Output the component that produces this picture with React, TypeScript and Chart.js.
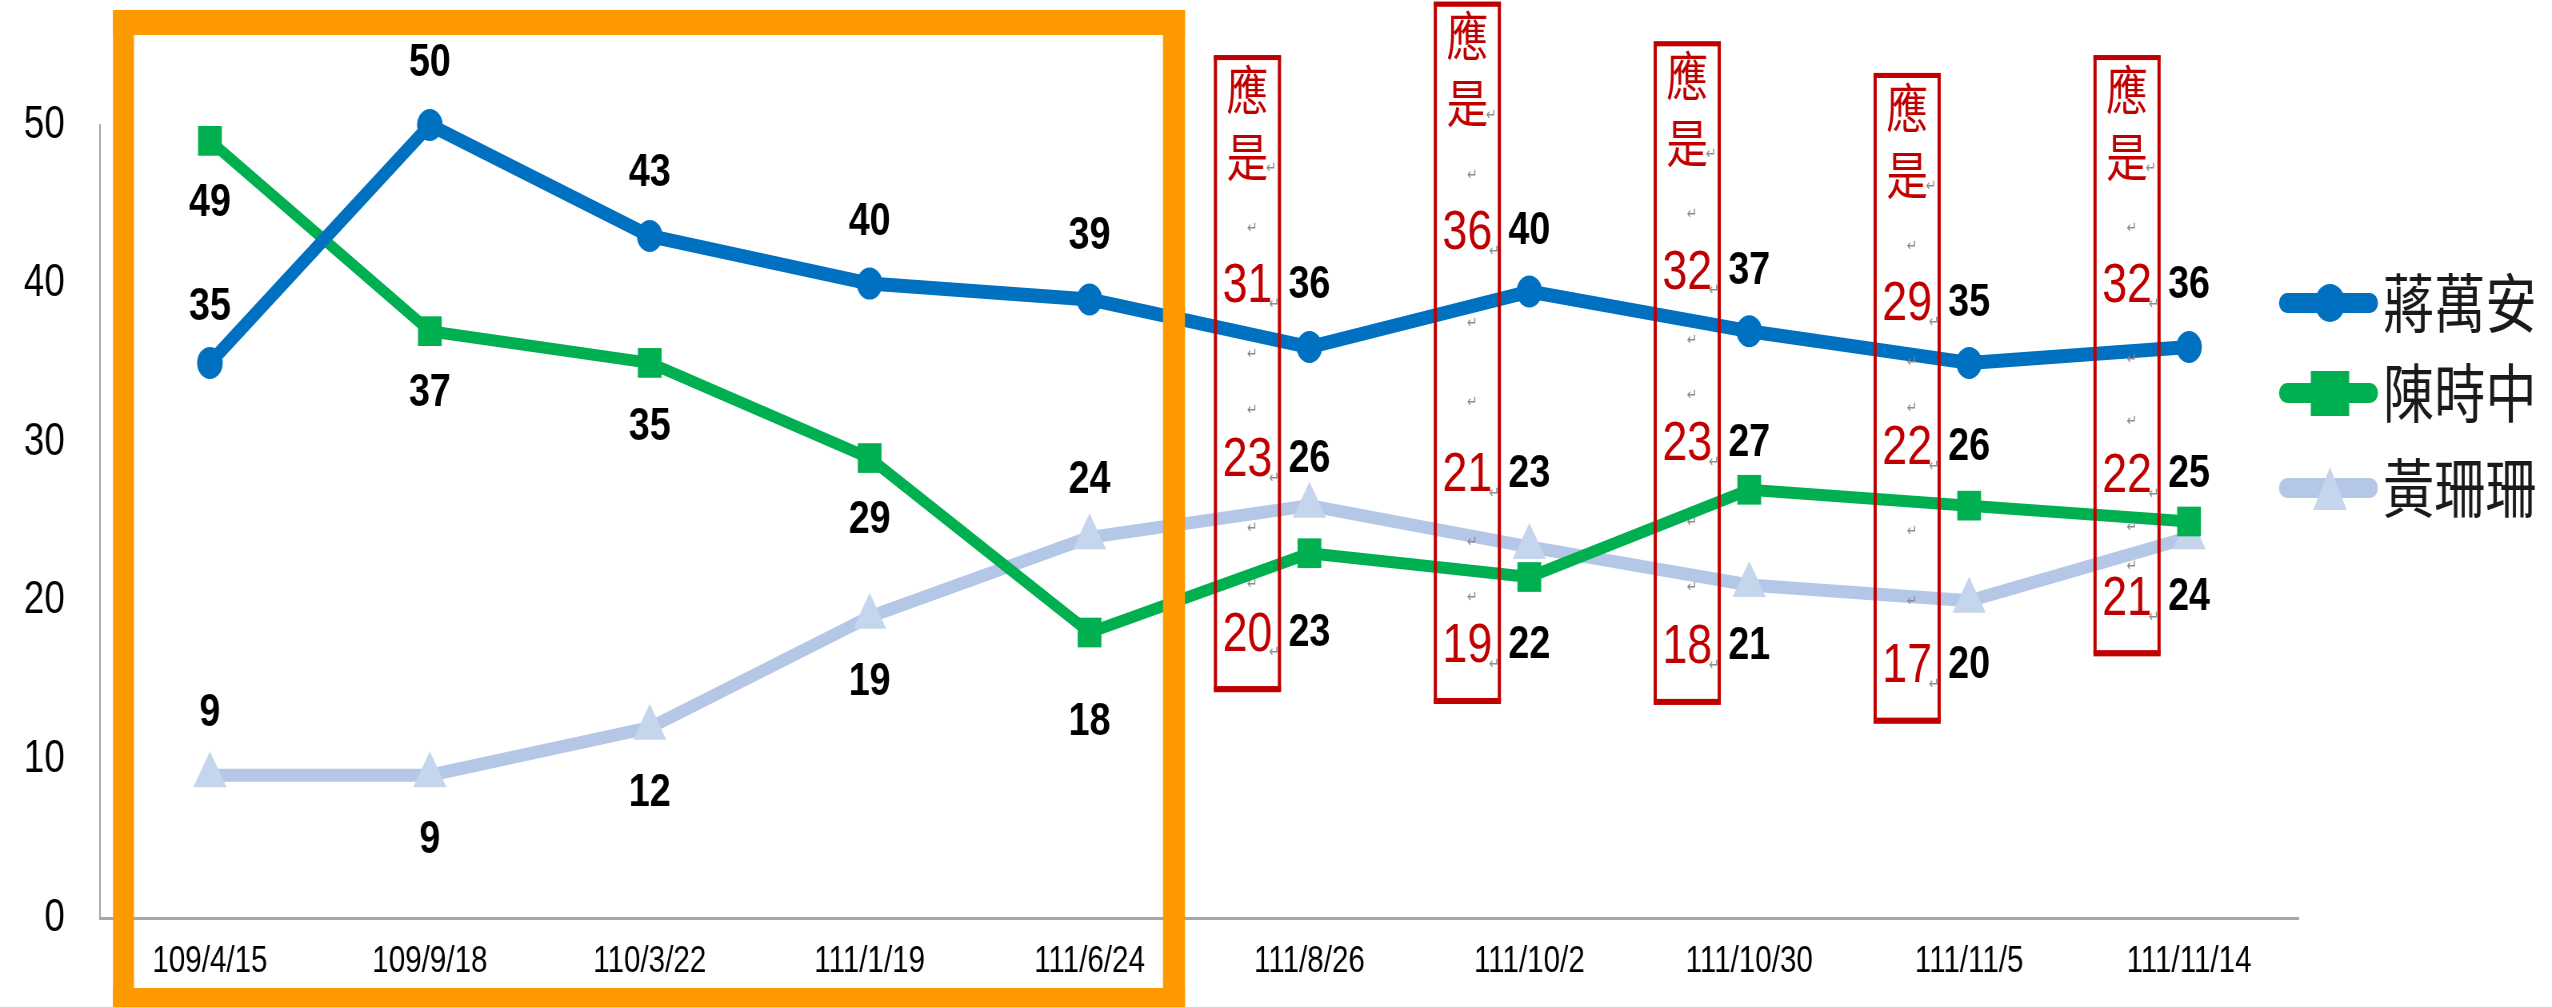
import React, { useEffect, useRef } from 'react';
import { Chart, registerables } from 'chart.js';

Chart.register(...registerables);

// ---------- data ----------
const CATEGORIES = ['109/4/15', '109/9/18', '110/3/22', '111/1/19', '111/6/24', '111/8/26', '111/10/2', '111/10/30', '111/11/5', '111/11/14'];
const SERIES_NAMES = ['蔣萬安', '陳時中', '黃珊珊'];
const CHIANG = [35, 50, 43, 40, 39, 36, 39.5, 37, 35, 36];
const CHEN = [49, 37, 35, 29, 18, 23, 21.5, 27, 26, 25];
const HUANG = [9, 9, 12, 19, 24, 26, 23.4, 21, 20, 24];
// "應是" corrected values (red annotations)
const CHIANG_CORR = [null, null, null, null, null, 31, 36, 32, 29, 32];
const CHEN_CORR = [null, null, null, null, null, 20, 19, 23, 22, 22];
const HUANG_CORR = [null, null, null, null, null, 23, 21, 18, 17, 21];
const CORRECTION_TITLE = ['應', '是'];
const Y_MIN = 0;
const Y_MAX = 50;
const Y_STEP = 10;

// ---------- styles ----------
const S = 0.8; // horizontal condensation of the original picture
const W = 2552;
const H = 1007;
const CW = Math.round(W / S);
const FONT = '"Liberation Sans", Arial, sans-serif';
const CJK = '"Noto Sans CJK TC", "Noto Sans CJK SC", sans-serif';
const COLORS = ['#0070C0', '#00B050', '#B4C7E7'];
const MARKER_COLORS = ['#0070C0', '#00B050', '#C5D5EC'];
const LINE_WIDTHS = [14, 12, 13];
const POINT_STYLES = ['circle', 'rect', 'triangle'];
const POINT_RADII = [16, 21, 24];
// label vertical offsets (px) from the point
const CHIANG_DY = [-56, -62, -63, -62, -63, -62, -60, -60, -60, -62];
const CHEN_DY = [62, 62, 64, 62, 90, 80, 68, -47, -59, -47];
const HUANG_DY = [-62, 65, 65, 65, -57, -47, -73, 61, 64, 60];
const RED = '#C00000';
const ORANGE = '#FF9900';

const dx = (d: number) => d / S;

export default function App() {
  const ref = useRef<HTMLCanvasElement>(null);

  useEffect(() => {
    const canvas = ref.current;
    if (!canvas) return;
    const values = [CHIANG, CHEN, HUANG];
    const corrs = [CHIANG_CORR, CHEN_CORR, HUANG_CORR];
    const dys = [CHIANG_DY, CHEN_DY, HUANG_DY];

    const plugin = {
      id: 'customText',
      afterDatasetsDraw(chart: any) {
        const ctx = chart.ctx;
        ctx.save();
        ctx.font = `bold 47px ${FONT}`;
        ctx.fillStyle = '#000';
        ctx.textAlign = 'center';
        ctx.textBaseline = 'middle';
        values.forEach((vals, i) => {
          const meta = chart.getDatasetMeta(i);
          meta.data.forEach((pt: any, j: number) => {
            ctx.fillText(String(Math.round(vals[j])), pt.x, pt.y + dys[i][j]);
          });
        });
        ctx.restore();
      },
      afterDraw(chart: any) {
        const ctx = chart.ctx;
        ctx.save();
        const metas = values.map((_, i) => chart.getDatasetMeta(i));
        // red correction boxes
        for (let j = 0; j < CATEGORIES.length; j++) {
          if (corrs.every((c) => c[j] == null)) continue;
          const cx = metas[0].data[j].x - dx(62);
          const ys = values.map((_, i) => metas[i].data[j].y + dys[i][j]);
          const topY = Math.min(...ys);
          const botY = Math.max(...ys);
          const y1 = topY - 195;
          const y2 = y1 + 67;
          const boxTop = y1 - 32;
          const boxBot = botY + 55;
          const bw = dx(64);
          ctx.strokeStyle = RED;
          ctx.lineWidth = 4;
          ctx.strokeRect(cx - bw / 2, boxTop, bw, boxBot - boxTop);
          ctx.fillStyle = RED;
          ctx.fillRect(cx - bw / 2 - 2, boxBot - 2, bw + 4, 6);
          ctx.fillRect(cx - bw / 2 - 2, boxTop - 3, bw + 4, 5);
          ctx.textAlign = 'center';
          ctx.textBaseline = 'middle';
          ctx.font = `52px ${CJK}`;
          ctx.fillText(CORRECTION_TITLE[0], cx, y1);
          ctx.fillText(CORRECTION_TITLE[1], cx, y2);
          ctx.font = `56px ${FONT}`;
          corrs.forEach((c, i) => {
            if (c[j] != null) ctx.fillText(String(c[j]), cx, ys[i] + 2);
          });
          // Word return marks
          ctx.fillStyle = '#8C8C8C';
          ctx.font = `16px "DejaVu Sans", sans-serif`;
          const marks: number[][] = [[cx + dx(24), y2 + 12]];
          const sorted = [...ys].sort((a, b) => a - b);
          sorted.forEach((y) => marks.push([cx + dx(27), y + 20]));
          marks.push([cx + dx(5), (y2 + sorted[0]) / 2 + 8]);
          for (let k = 0; k < sorted.length - 1; k++) {
            const a = sorted[k];
            const b = sorted[k + 1];
            marks.push([cx + dx(5), a + (b - a) / 3 + 12]);
            marks.push([cx + dx(5), a + (2 * (b - a)) / 3 + 10]);
          }
          marks.forEach(([x, y]) => ctx.fillText('↵', x, y));
        }

        // legend
        const rows = [303, 393, 488];
        const lx1 = dx(2279);
        const lx2 = dx(2378);
        const mx = dx(2330);
        SERIES_NAMES.forEach((name, i) => {
          const y = rows[i];
          ctx.strokeStyle = COLORS[i];
          ctx.lineWidth = 20;
          ctx.lineCap = 'round';
          ctx.beginPath();
          ctx.moveTo(lx1 + 10, y);
          ctx.lineTo(lx2 - 10, y);
          ctx.stroke();
          ctx.fillStyle = MARKER_COLORS[i];
          ctx.beginPath();
          if (i === 0) {
            ctx.arc(mx, y, 19, 0, Math.PI * 2);
          } else if (i === 1) {
            ctx.rect(mx - 24, y - 22, 48, 45);
          } else {
            ctx.moveTo(mx, y - 21);
            ctx.lineTo(mx - 21, y + 22);
            ctx.lineTo(mx + 21, y + 22);
            ctx.closePath();
          }
          ctx.fill();
          ctx.fillStyle = '#1a1a1a';
          ctx.font = `64px ${CJK}`;
          ctx.textAlign = 'left';
          ctx.textBaseline = 'middle';
          ctx.fillText(name, dx(2383), y);
        });

        // orange highlight frame
        ctx.fillStyle = ORANGE;
        ctx.fillRect(dx(113), 10, dx(1185 - 113), 25);
        ctx.fillRect(dx(113), 10, dx(21), H - 10);
        ctx.fillRect(dx(1163), 10, dx(22), H - 10);
        ctx.fillRect(dx(113), 988, dx(1185 - 113), H - 988);
        ctx.restore();
      },
    };

    const chart = new Chart(canvas, {
      type: 'line',
      data: {
        labels: CATEGORIES,
        datasets: values.map((vals, i) => ({
          label: SERIES_NAMES[i],
          data: vals,
          borderColor: COLORS[i],
          backgroundColor: MARKER_COLORS[i],
          borderWidth: LINE_WIDTHS[i],
          pointStyle: POINT_STYLES[i] as any,
          pointRadius: POINT_RADII[i],
          pointBackgroundColor: MARKER_COLORS[i],
          pointBorderWidth: 0,
          pointBorderColor: MARKER_COLORS[i],
          borderJoinStyle: 'round' as any,
          borderCapStyle: 'round' as any,
          tension: 0,
          fill: false,
          clip: false as any,
        })),
      },
      options: {
        responsive: false,
        animation: false,
        devicePixelRatio: 1,
        events: [],
        layout: { padding: { top: 125, right: CW - dx(2299), left: 0, bottom: 0 } },
        plugins: { legend: { display: false }, tooltip: { enabled: false } },
        scales: {
          x: {
            offset: true,
            grid: { display: true, color: 'rgba(0,0,0,0)', drawTicks: false, offset: true },
            border: { display: true, color: '#A6A6A6', width: 3 },
            ticks: { font: { family: FONT, size: 37 }, color: '#000', padding: 22, maxRotation: 0, autoSkip: false },
            afterFit: (s: any) => { s.height = H - 918; },
          },
          y: {
            min: Y_MIN,
            max: Y_MAX,
            grid: { display: true, color: 'rgba(0,0,0,0)', drawTicks: false },
            border: { display: true, color: '#A6A6A6', width: 2 },
            ticks: { stepSize: Y_STEP, font: { family: FONT, size: 46 }, color: '#000', padding: 44 },
            afterFit: (s: any) => { s.width = dx(100); },
          },
        },
      },
      plugins: [plugin],
    });
    return () => chart.destroy();
  }, []);

  return (
    <div style={{ position: 'fixed', left: 0, top: 0, width: W, height: H, background: '#fff', overflow: 'hidden' }}>
      <canvas ref={ref} width={CW} height={H} style={{ width: `${W}px`, height: `${H}px`, display: 'block' }} />
    </div>
  );
}
